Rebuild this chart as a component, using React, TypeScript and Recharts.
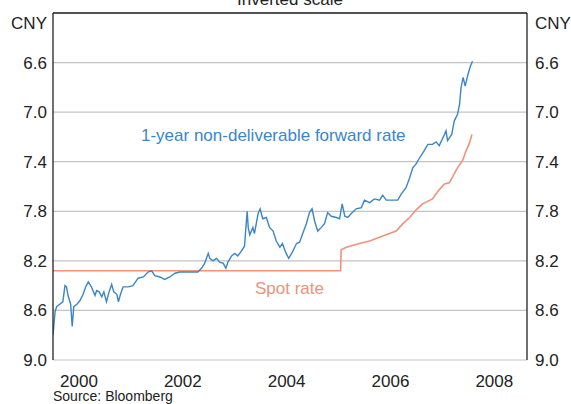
import { LineChart, Line, XAxis, YAxis, CartesianGrid, ReferenceLine } from 'recharts';

// 1-year NDF rate (CNY per USD)
const ndfDates = [
  2000.0, 2000.04, 2000.07, 2000.13, 2000.19, 2000.23, 2000.26, 2000.29, 2000.34, 2000.37,
  2000.4, 2000.46, 2000.52, 2000.58, 2000.63, 2000.68, 2000.74, 2000.81, 2000.84, 2000.89,
  2000.94, 2000.98, 2001.03, 2001.08, 2001.13, 2001.17, 2001.23, 2001.26, 2001.3, 2001.35,
  2001.45, 2001.54, 2001.64, 2001.74, 2001.83, 2001.9, 2001.96, 2002.06, 2002.15, 2002.25,
  2002.35, 2002.44, 2002.57, 2002.7, 2002.79, 2002.86, 2002.92, 2002.99, 2003.02, 2003.08,
  2003.15, 2003.21, 2003.28, 2003.33, 2003.37, 2003.44, 2003.5, 2003.56, 2003.63, 2003.69,
  2003.71, 2003.74, 2003.76, 2003.79, 2003.85, 2003.88, 2003.95, 2003.99, 2004.04, 2004.11,
  2004.17, 2004.24, 2004.3, 2004.37, 2004.42, 2004.48, 2004.54, 2004.61, 2004.69, 2004.75,
  2004.81, 2004.88, 2004.94, 2004.99, 2005.04, 2005.1, 2005.17, 2005.23, 2005.29, 2005.36,
  2005.46, 2005.52, 2005.57, 2005.62, 2005.68, 2005.74, 2005.84, 2005.94, 2006.0, 2006.1,
  2006.19, 2006.29, 2006.35, 2006.42, 2006.51, 2006.64, 2006.71, 2006.8, 2006.87, 2006.93,
  2006.99, 2007.06, 2007.15, 2007.22, 2007.31, 2007.38, 2007.44, 2007.54, 2007.57, 2007.6,
  2007.68, 2007.73, 2007.79, 2007.83, 2007.86, 2007.9, 2007.94, 2007.99, 2008.04, 2008.08,
];
const ndfRates = [
  8.8, 8.61, 8.57, 8.55, 8.53, 8.4, 8.41, 8.48, 8.55, 8.73,
  8.57, 8.55, 8.52, 8.47, 8.41, 8.37, 8.41, 8.48, 8.44, 8.45,
  8.49, 8.45, 8.53, 8.45, 8.39, 8.45, 8.47, 8.53, 8.47, 8.41,
  8.41, 8.4, 8.34, 8.33, 8.29, 8.28, 8.32, 8.33, 8.35, 8.33,
  8.3, 8.29, 8.29, 8.29, 8.29, 8.26, 8.22, 8.14, 8.18, 8.2,
  8.18, 8.21, 8.22, 8.26, 8.21, 8.16, 8.14, 8.16, 8.12, 8.08,
  7.96, 7.8, 7.93, 7.99, 7.93, 7.98, 7.82, 7.78, 7.86, 7.85,
  7.93, 7.96, 8.04, 8.09, 8.06, 8.13, 8.18, 8.13, 8.06, 8.05,
  7.98, 7.9, 7.81, 7.78, 7.88, 7.96, 7.93, 7.9, 7.81, 7.84,
  7.85, 7.86, 7.74, 7.84, 7.85, 7.82, 7.78, 7.77, 7.71, 7.73,
  7.7, 7.71, 7.67, 7.71, 7.71, 7.71, 7.66, 7.61, 7.53, 7.45,
  7.42, 7.37, 7.31, 7.26, 7.26, 7.24, 7.27, 7.18, 7.15, 7.23,
  7.18, 7.07, 7.02, 6.94, 6.8, 6.72, 6.79, 6.7, 6.63, 6.59,
];

// Spot rate
const spotDates = [
  2000.0, 2005.54, 2005.55, 2005.65, 2005.9, 2006.1, 2006.29, 2006.48, 2006.61, 2006.74,
  2006.87, 2006.99, 2007.12, 2007.31, 2007.41, 2007.54, 2007.63, 2007.7, 2007.79, 2007.89,
  2007.95, 2008.02, 2008.07,
];
const spotRates = [
  8.28, 8.28, 8.11, 8.09, 8.06, 8.04, 8.01, 7.98, 7.96, 7.9,
  7.85, 7.79, 7.74, 7.7, 7.64, 7.58, 7.57, 7.52, 7.45, 7.39,
  7.32, 7.25, 7.18,
];

const rateTicks = [6.6, 7.0, 7.4, 7.8, 8.2, 8.6, 9.0];
const yearTicks = [2001, 2002, 2003, 2004, 2005, 2006, 2007, 2008];
const yearLabelPos = [2000.5, 2002.5, 2004.5, 2006.5, 2008.5];

const ndf = ndfDates.map((t, i) => ({ t, v: ndfRates[i] }));
const spot = spotDates.map((t, i) => ({ t, v: spotRates[i] }));

const BLUE = '#3a86c8';
const ORANGE = '#f0917a';
const INK = '#222';
const FONT = '"Liberation Sans", Arial, sans-serif';

// small inward tick at each year boundary
function YearTick(props: any) {
  const { x, y } = props;
  return <line x1={x} x2={x} y1={y} y2={y - 5} stroke={INK} strokeWidth={1} />;
}

export default function App() {
  const tick = { fontSize: 17, fill: INK, fontFamily: FONT };
  return (
    <div style={{ position: 'absolute', left: 0, top: 0, width: 571, height: 404, background: '#fff' }}>
      <LineChart width={571} height={404} margin={{ top: 13, right: 0, bottom: 0, left: 0 }} style={{ fontFamily: FONT }}>
        <CartesianGrid yAxisId="left" xAxisId="main" vertical={false} stroke="#c4c4c4" strokeWidth={1.2} />
        <XAxis
          xAxisId="main"
          dataKey="t"
          type="number"
          domain={[2000, 2009.13]}
          allowDataOverflow
          ticks={yearTicks}
          height={0}
          tickSize={0}
          tickMargin={0}
          tickLine={false}
          tick={<YearTick />}
          axisLine={{ stroke: INK, strokeWidth: 1.3 }}
        />
        {/* year labels sit mid-year */}
        <XAxis
          xAxisId="labels"
          dataKey="t"
          type="number"
          domain={[2000, 2009.13]}
          allowDataOverflow
          ticks={yearLabelPos}
          tickFormatter={(t: number) => String(Math.floor(t))}
          axisLine={false}
          tickLine={false}
          tickSize={0}
          tickMargin={15}
          height={44}
          tick={tick}
        />
        <YAxis
          yAxisId="left"
          domain={[6.2, 9.0]}
          reversed
          allowDataOverflow
          ticks={rateTicks}
          tickFormatter={(v: number) => v.toFixed(1)}
          width={53}
          tickSize={0}
          tickMargin={6}
          tickLine={false}
          axisLine={{ stroke: INK, strokeWidth: 1.3 }}
          tick={tick}
        />
        <YAxis
          yAxisId="right"
          orientation="right"
          domain={[6.2, 9.0]}
          reversed
          allowDataOverflow
          ticks={rateTicks}
          tickFormatter={(v: number) => v.toFixed(1)}
          width={44}
          tickSize={0}
          tickMargin={8}
          tickLine={false}
          axisLine={{ stroke: INK, strokeWidth: 1.3 }}
          tick={{ ...tick, textAnchor: 'start' }}
        />
        <ReferenceLine yAxisId="left" xAxisId="main" y={6.2} stroke={INK} strokeWidth={1.3} />
        <Line
          xAxisId="main"
          yAxisId="left"
          data={spot}
          dataKey="v"
          type="linear"
          stroke={ORANGE}
          strokeWidth={1.6}
          dot={false}
          isAnimationActive={false}
        />
        <Line
          xAxisId="main"
          yAxisId="left"
          data={ndf}
          dataKey="v"
          type="linear"
          stroke={BLUE}
          strokeWidth={1.4}
          dot={false}
          isAnimationActive={false}
        />
      </LineChart>
      <svg width={571} height={404} style={{ position: 'absolute', left: 0, top: 0, pointerEvents: 'none' }} fontFamily={FONT}>
        <text x={290} y={5} textAnchor="middle" fontSize={17} fill={INK}>Inverted scale</text>
        <text x={47} y={29} textAnchor="end" fontSize={17} fill={INK}>CNY</text>
        <text x={535} y={29} fontSize={17} fill={INK}>CNY</text>
        <text x={141} y={140.5} fontSize={17} fill={BLUE}>1-year non-deliverable forward rate</text>
        <text x={255} y={294} fontSize={17} fill={ORANGE}>Spot rate</text>
        <text x={53} y={401} fontSize={14} fill={INK}>Source: Bloomberg</text>
      </svg>
    </div>
  );
}
